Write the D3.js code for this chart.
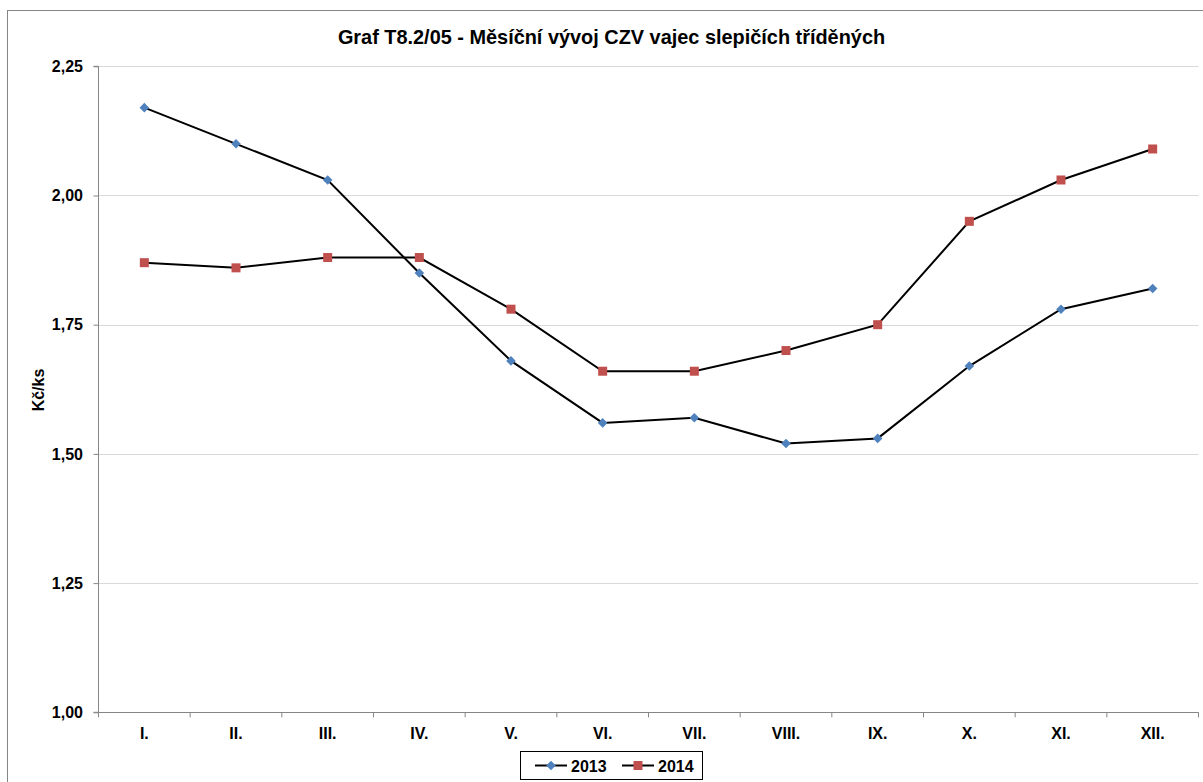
<!DOCTYPE html>
<html><head><meta charset="utf-8">
<script src="https://cdn.jsdelivr.net/npm/d3@7"></script>
<style>
html,body{margin:0;padding:0;background:#fff;}
text{font-family:"Liberation Sans",Arial,sans-serif;font-weight:bold;fill:#000;}
</style></head>
<body><svg id="c" width="1203" height="782"></svg>
<script>
const months = ["I.","II.","III.","IV.","V.","VI.","VII.","VIII.","IX.","X.","XI.","XII."];
const values2013 = [2.17,2.10,2.03,1.85,1.68,1.56,1.57,1.52,1.53,1.67,1.78,1.82];
const values2014 = [1.87,1.86,1.88,1.88,1.78,1.66,1.66,1.70,1.75,1.95,2.03,2.09];
const yTicks = [1.00,1.25,1.50,1.75,2.00,2.25];
const seriesNames = ["2013","2014"];
const title = "Graf T8.2/05 - Měsíční vývoj CZV vajec slepičích tříděných";
const yLabel = "Kč/ks";

const svg = d3.select("#c");
// outer chart border
svg.append("rect").attr("x",7.5).attr("y",10.5).attr("width",1250).attr("height",800)
  .attr("fill","none").attr("stroke","#868686").attr("stroke-width",1);

const L=98.5, R=1198.5, T=66.3, B=712.3;
const x = d3.scaleBand().domain(months).range([L,R]);
const y = d3.scaleLinear().domain([1,2.25]).range([B,T]);

// gridlines
svg.append("g").selectAll("line").data(yTicks.slice(1)).join("line")
  .attr("x1",L).attr("x2",R).attr("y1",d=>Math.round(y(d))+0.5).attr("y2",d=>Math.round(y(d))+0.5)
  .attr("stroke","#d9d9d9").attr("stroke-width",1);

const fmt = d => d3.format(".2f")(d).replace(".",",");
// y axis
const ya = svg.append("g").attr("transform",`translate(${L},0)`)
  .call(d3.axisLeft(y).tickValues(yTicks).tickFormat(fmt).tickSize(5).tickPadding(10.5));
ya.select(".domain").attr("stroke","#868686").attr("d",`M-5,${B}H0V${T}H-5`);
ya.selectAll(".tick line").attr("stroke","#868686");
ya.selectAll(".tick text").attr("font-size",16).attr("font-family","Liberation Sans, Arial, sans-serif").attr("font-weight","bold").attr("fill","#000");

// x axis
const xa = svg.append("g").attr("transform",`translate(0,${Math.round(B)+0.5})`)
  .call(d3.axisBottom(x).tickSize(0).tickPadding(14));
xa.select(".domain").attr("stroke","#868686").attr("d",`M${L},0H${R}`);
xa.selectAll(".tick text").attr("font-size",16).attr("dy",null)
  .attr("font-family","Liberation Sans, Arial, sans-serif").attr("font-weight","bold").attr("fill","#000")
  .attr("y",26);
// category boundary ticks
svg.append("g").selectAll("line").data(months.concat(["end"])).join("line")
  .attr("x1",(d,i)=>L+i*x.step()).attr("x2",(d,i)=>L+i*x.step())
  .attr("y1",B).attr("y2",B+5).attr("stroke","#868686");

const cx = d => x(d)+x.bandwidth()/2;
const line = d3.line().x((d,i)=>cx(months[i])).y(d=>y(d));

[values2013,values2014].forEach(vals=>{
  svg.append("path").datum(vals).attr("d",line).attr("fill","none").attr("stroke","#000").attr("stroke-width",2);
});
// markers 2013 diamonds
svg.append("g").selectAll("path").data(values2013).join("path")
  .attr("d",d3.symbol().type(d3.symbolSquare).size(46))
  .attr("transform",(d,i)=>`translate(${cx(months[i])},${y(d)}) rotate(45)`)
  .attr("fill","#4f81bd");
// markers 2014 squares
svg.append("g").selectAll("rect").data(values2014).join("rect")
  .attr("x",(d,i)=>cx(months[i])-4.5).attr("y",d=>y(d)-4.5).attr("width",9).attr("height",9)
  .attr("fill","#c0504d");

// title
svg.append("text").attr("x",611.5).attr("y",44).attr("text-anchor","middle").attr("font-size",19.9).text(title);
// y label
svg.append("text").attr("transform","translate(43.5,390) rotate(-90)").attr("text-anchor","middle").attr("font-size",16).text(yLabel);

// legend
const lg = svg.append("g");
lg.append("rect").attr("x",520.5).attr("y",751.5).attr("width",182).attr("height",28).attr("fill","#fff").attr("stroke","#000");
const items = [{n:seriesNames[0],x:535,c:"#4f81bd",t:"d"},{n:seriesNames[1],x:622,c:"#c0504d",t:"s"}];
items.forEach(it=>{
  lg.append("line").attr("x1",it.x).attr("x2",it.x+32).attr("y1",765.5).attr("y2",765.5).attr("stroke","#000").attr("stroke-width",2);
  if(it.t==="d"){
    lg.append("path").attr("d",d3.symbol().type(d3.symbolSquare).size(46)).attr("transform",`translate(${it.x+16},765.5) rotate(45)`).attr("fill",it.c);
  } else {
    lg.append("rect").attr("x",it.x+11.5).attr("y",761).attr("width",9).attr("height",9).attr("fill",it.c);
  }
  lg.append("text").attr("x",it.x+36).attr("y",771.5).attr("font-size",16).text(it.n);
});
</script></body></html>
